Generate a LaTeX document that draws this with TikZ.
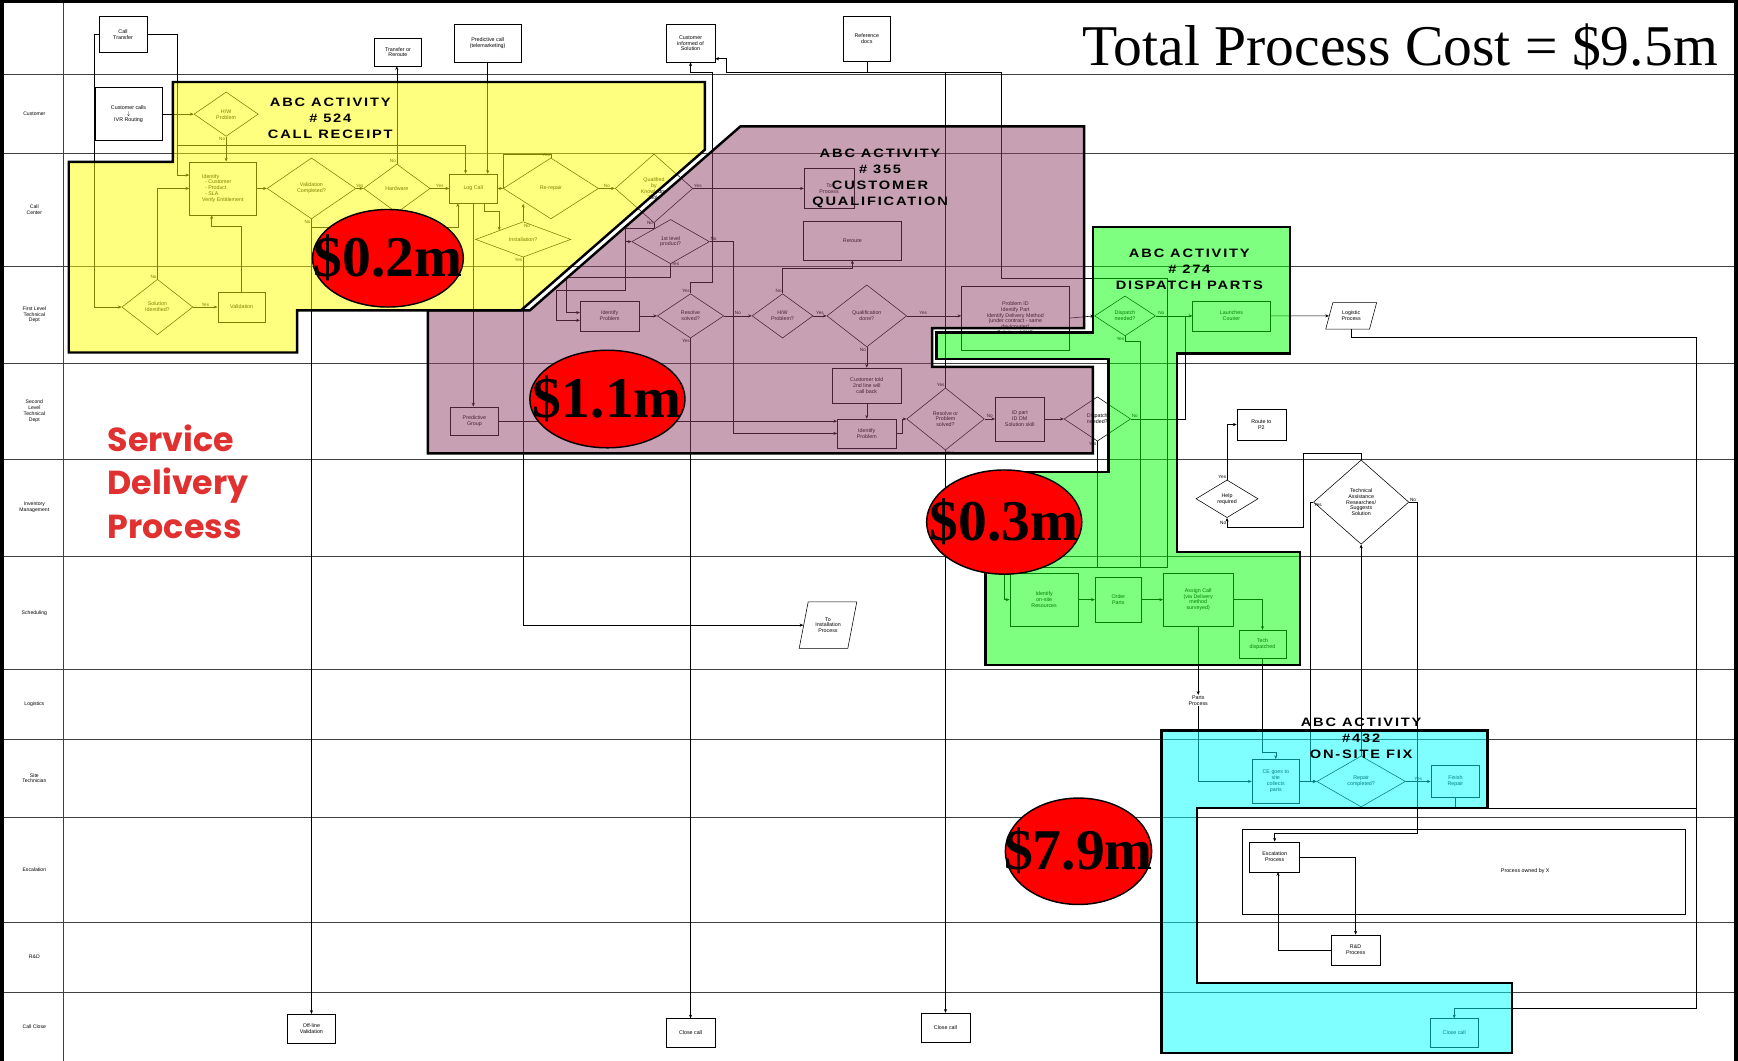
\documentclass[tikz,border=0pt]{standalone}
\usepackage{fontspec}
\setmainfont{Liberation Sans}
\newfontfamily\serifface{Liberation Serif}
\newfontfamily\abcface[LetterSpace=15,FakeStretch=1.2]{Liberation Sans Bold}
\newfontfamily\redface{Poppins}
\usetikzlibrary{shapes.geometric,arrows.meta}

\definecolor{abcyellow}{RGB}{255,255,0}
\definecolor{abcpurple}{RGB}{145,69,105}
\definecolor{abcgreen}{RGB}{0,255,0}
\definecolor{abccyan}{RGB}{0,255,255}
\definecolor{svcred}{RGB}{224,48,48}

\tikzset{
  lane/.style={line width=0.6pt, black!75},
  lanelabel/.style={font=\fontsize{4.6}{5.2}\selectfont, align=center, inner sep=0.5pt},
  box/.style={draw, fill=white, line width=0.5pt, align=center, inner sep=0.5pt, font=\fontsize{4.8}{5.3}\selectfont},
  dec/.style={diamond, draw, fill=white, line width=0.5pt, align=center, inner sep=0pt, font=\fontsize{4.8}{5.3}\selectfont},
  io/.style={trapezium, trapezium left angle=70, trapezium right angle=110, trapezium stretches=true, draw, fill=white, line width=0.5pt, align=center, inner sep=0.5pt, font=\fontsize{4.8}{5.3}\selectfont},
  flow/.style={line width=0.5pt, -{Stealth[length=3.4pt,width=2.8pt]}},
  link/.style={line width=0.5pt},
  yn/.style={font=\fontsize{4.2}{4.6}\selectfont, inner sep=0.6pt},
  rim/.style={draw=black, line width=2.2pt, line join=miter},
  abc/.style={font=\abcface\fontsize{11}{14.3}\selectfont, align=center, inner sep=0pt},
  cost/.style={ellipse, draw=black, line width=1.3pt, fill=red, inner sep=0pt},
  costtxt/.style={font=\serifface\bfseries\fontsize{52}{52}\selectfont, inner sep=0pt},
  sdp/.style={font=\redface\bfseries\fontsize{30}{30}\selectfont, text=svcred, anchor=base west, inner sep=0pt}
}

\begin{document}
\begin{tikzpicture}[x=1pt, y=-1pt]
  \useasboundingbox (0,0) rectangle (1568,957);
  \fill[white] (0,0) rectangle (1568,957);

  % Swim lanes
  \foreach \ly in {67,138,240,328,414,502,604,667,737,832,895}
    \draw[lane] (4,\ly) -- (1564,\ly);
  \draw[lane] (57,3) -- (57,957);
  \node[lanelabel] (lnCust) at (31,103) {Customer};
  \node[lanelabel] (lnCall) at (31,189) {Call\\Center};
  \node[lanelabel] (lnFirst) at (31,284) {First Level\\Technical\\Dept};
  \node[lanelabel] (lnSecond) at (31,371) {Second\\Level\\Technical\\Dept};
  \node[lanelabel] (lnInv) at (31,458) {Inventory\\Management};
  \node[lanelabel] (lnSched) at (31,553) {Scheduling};
  \node[lanelabel] (lnLog) at (31,635) {Logistics};
  \node[lanelabel] (lnSite) at (31,702) {Site\\Technician};
  \node[lanelabel] (lnEsc) at (31,785) {Escalation};
  \node[lanelabel] (lnRD) at (31,863) {R\&D};
  \node[lanelabel] (lnClose) at (31,926) {Call Close};

  % Header row
  \node[box, minimum width=43pt, minimum height=33pt] (calltr) at (111,31) {Call\\Transfer};
  \node[box, minimum width=43pt, minimum height=25pt] (xfer) at (359,47) {Transfer or\\Reroute};
  \node[box, minimum width=61pt, minimum height=34pt] (predict) at (440,39) {Predictive call\\(telemarketing)};
  \node[box, minimum width=44pt, minimum height=34pt] (custinf) at (623,39) {Customer\\informed of\\Solution};
  \node[box, minimum width=43pt, minimum height=41pt] (refdocs) at (782,35) {Reference\\docs};

  % Customer and call center
  \node[box, minimum width=60pt, minimum height=48pt] (ivr) at (116,103) {Customer calls\\$\downarrow$\\IVR Routing};
  \node[dec, minimum width=58pt, minimum height=40pt] (hwprob) at (204,103) {H/W\\Problem};
  \node[box, align=left, minimum width=60pt, minimum height=48pt] (ident) at (201,170) {Identify\\\ \ - Customer\\\ \ - Product\\\ \ - SLA\\Verify Entitlement};
  \node[dec, minimum width=80pt, minimum height=55pt] (valid) at (281,170) {Validation\\Completed?};
  \node[dec, minimum width=60pt, minimum height=44pt] (hw) at (358,170) {Hardware};
  \node[box, minimum width=43pt, minimum height=26pt] (logcall) at (427,170) {Log Call};
  \node[dec, minimum width=86pt, minimum height=55pt] (rerep) at (497,170) {Re-repair};
  \node[dec, minimum width=70pt, minimum height=62pt] (qualkt) at (590,170) {Qualified\\by\\Knowledge\\Tools};
  \node[dec, minimum width=86pt, minimum height=32pt] (install) at (472,216) {Installation?};
  \node[dec, minimum width=70pt, minimum height=40pt] (lvl1) at (605,218) {1st level\\product?};
  \node[box, minimum width=45pt, minimum height=36pt] (toproc) at (748,170) {To\\Process};
  \node[box, minimum width=89pt, minimum height=35pt] (rerout2) at (769,217) {Reroute};

  % First level
  \node[dec, minimum width=64pt, minimum height=50pt] (solid) at (142,277) {Solution\\Identified?};
  \node[box, minimum width=43pt, minimum height=27pt] (validn) at (218,277) {Validation};
  \node[box, minimum width=53pt, minimum height=27pt] (idp1) at (550,285) {Identify\\Problem};
  \node[dec, minimum width=60pt, minimum height=40pt] (ress) at (623,285) {Resolve\\solved?};
  \node[dec, minimum width=55pt, minimum height=40pt] (hwp2) at (706,285) {H/W\\Problem?};
  \node[dec, minimum width=72pt, minimum height=56pt] (qdone) at (782,285) {Qualification\\done?};
  \node[box, minimum width=97pt, minimum height=58pt] (probid) at (916,287) {Problem ID\\Identify Part\\Identify Delivery Method\\(under contract - same\\day/courier)\\Solution skill ID};
  \node[dec, minimum width=55pt, minimum height=36pt] (disp1) at (1015,285) {Dispatch\\needed?};
  \node[box, minimum width=70pt, minimum height=27pt] (launch) at (1111,285) {Launches\\Courier};
  \node[io, minimum width=46pt, minimum height=24pt] (logist) at (1219,285) {Logistic\\Process};

  % Second level
  \node[box, minimum width=43pt, minimum height=26pt] (predgrp) at (428,380) {Predictive\\Group};
  \node[box, minimum width=62pt, minimum height=32pt] (told) at (782,348) {Customer told\\2nd line will\\call back};
  \node[box, minimum width=53pt, minimum height=26pt] (idp2) at (782,391) {Identify\\Problem};
  \node[dec, minimum width=70pt, minimum height=56pt] (ress2) at (853,378) {Resolve or\\Problem\\solved?};
  \node[box, minimum width=44pt, minimum height=40pt] (idpart) at (920,378) {ID part\\ID DM\\Solution skill};
  \node[dec, minimum width=60pt, minimum height=40pt] (disp2) at (990,378) {Dispatch\\needed?};
  \node[box, minimum width=44pt, minimum height=28pt] (route2) at (1138,383) {Route to\\P2};

  % Inventory
  \node[dec, minimum width=56pt, minimum height=34pt] (help) at (1107,450) {Help\\required};
  \node[dec, minimum width=86pt, minimum height=76pt] (tech) at (1228,453) {Technical\\Assistance\\Researches/\\Suggests\\Solution};

  % Scheduling and logistics
  \node[io, minimum width=52pt, minimum height=42pt] (toinst) at (747,564) {To\\Installation\\Process};
  \node[box, minimum width=62pt, minimum height=48pt] (onsite) at (942,541) {Identify\\on-site\\Resources};
  \node[box, minimum width=42pt, minimum height=40pt] (order) at (1009,541) {Order\\Parts};
  \node[box, minimum width=63pt, minimum height=48pt] (assign) at (1081,541) {Assign Call\\(via Delivery\\method\\surveyed)};
  \node[box, minimum width=42pt, minimum height=25pt] (techd) at (1139,581) {Tech\\dispatched};
  \node[box, draw=none, fill=none] (parts) at (1081,632) {Parts\\Process};

  % Site technician, escalation, R&D
  \node[box, minimum width=43pt, minimum height=40pt] (cego) at (1151,705) {CE goes to\\site\\collects\\parts};
  \node[dec, minimum width=80pt, minimum height=46pt] (repair) at (1228,705) {Repair\\completed?};
  \node[box, minimum width=44pt, minimum height=29pt] (finish) at (1313,705) {Finish\\Repair};
  \node[draw, line width=1pt, minimum width=400pt, minimum height=77pt, inner sep=0pt] (owned) at (1321,786.5) {};
  \node[box, draw=none, fill=none] (ownedtx) at (1376,786) {Process owned by X};
  \node[box, minimum width=45pt, minimum height=27pt] (escal) at (1150,773) {Escalation\\Process};
  \node[box, minimum width=44pt, minimum height=27pt] (rnd) at (1223,857) {R\&D\\Process};

  % Call close
  \node[box, minimum width=43pt, minimum height=26pt] (offline) at (281,928) {Off-line\\Validation};
  \node[box, minimum width=44pt, minimum height=26pt] (close1) at (623,932) {Close call};
  \node[box, minimum width=44pt, minimum height=26pt] (close2) at (853,927) {Close call};
  \node[box, minimum width=44pt, minimum height=26pt] (close3) at (1312,932) {Close call};

  % Call receipt flow
  \coordinate (ctbr) at (160,131);
  \coordinate (vbr) at (281,205);
  \draw[flow] (calltr.west) -- ++(-4,0) |- (solid.west);
  \draw[flow] (calltr.east) -| (160,158) -- ([yshift=12pt]ident.west);
  \draw[flow] (ctbr) -| ([xshift=-7pt]logcall.north);
  \draw[flow] (ivr.east) -- (hwprob.west);
  \draw[flow] (hwprob.south) node[yn, below left]{No} -- (hwprob.south |- ident.north);
  \draw[flow] (ident.east) -- (valid.west);
  \draw[flow] (valid.east) -- node[yn, above]{Yes} (hw.west);
  \draw[flow] (valid.south) node[yn, below left]{No} -- (valid.south |- offline.north);
  \draw[flow] (vbr) -| ([xshift=-14pt]logcall.south);
  \draw[flow] (hw.east) -- node[yn, above]{Yes} (logcall.west);
  \draw[flow] (hw.north) node[yn, above left]{No} -- (hw.north |- xfer.south);
  \draw[flow] (predict.south) -- (predict.south |- logcall.north);
  \draw[flow] (logcall.east) -- (rerep.west);
  \draw[link] (rerep.north) node[yn, above left]{Yes} -- ++(0,-3) -| ([xshift=5pt]logcall.east);
  \draw[flow] (rerep.east) -- node[yn, above]{No} (qualkt.west);
  \draw[flow] (install.north) node[yn, right, yshift=-4pt]{No} -- (install.north |- rerep.south west);
  \draw[flow] ([xshift=10pt]logcall.south) |- ([yshift=17pt]install.north west) -- (install.north west);
  \draw[flow] (install.south) node[yn, below left]{Yes} |- (toinst.west);
  \draw[flow] (logcall.south) -- (logcall.south |- predgrp.north);
  \draw[flow] (solid.east) -- node[yn, above]{Yes} (validn.west);
  \draw[flow] (solid.north) node[yn, above left]{No} |- (ident.west);
  \draw[flow] (validn.north) |- ([xshift=-10pt,yshift=-10pt]ident.south) -- ([xshift=-10pt]ident.south);

  % Qualification flow
  \draw[flow] (qualkt.east) node[yn, above right]{Yes} -- (qualkt.east -| toproc.west);
  \draw[flow] (qualkt.south) node[yn, left]{No} -- ++(0,5) -| ([xshift=-6pt]lvl1.west) -- (lvl1.west);
  \draw[flow] (lvl1.east) node[yn, above right]{No} -| ([xshift=-94pt]idp2.west) -- (idp2.west);
  \draw[flow] (lvl1.south) node[yn, right]{Yes} |- (511,250) |- ([yshift=3pt]idp1.west);
  \draw[flow] ([xshift=-6pt]lvl1.west) |- (502,262) |- ([yshift=-4pt]idp1.west);
  \draw[flow] (idp1.east) -- (ress.west);
  \draw[flow] (ress.east) -- node[yn, above]{No} (hwp2.west);
  \draw[flow] (ress.north) node[yn, above left]{Yes} |- (643,255) -- (643,65) -| (custinf.south);
  \draw[flow] (ress.south) node[yn, below left]{Yes} -- (ress.south |- close1.north);
  \draw[flow] (hwp2.east) -- node[yn, above]{Yes} (qdone.west);
  \draw[flow] (hwp2.north) node[yn, above left]{No} |- ([yshift=-7pt]rerout2.south) -- (rerout2.south);
  \draw[flow] (qdone.east) -- node[yn, above, pos=0.3]{Yes} (qdone.east -| probid.west);
  \draw[flow] (qdone.south) node[yn, below left]{No} -- (told.north);
  \draw[flow] (told.south) -- (idp2.north);
  \draw[flow] (predgrp.east) -- (predgrp.east -| idp2.west);
  \draw[flow] (idp2.east) -- ++(5,0) |- (ress2.west);
  \draw[flow] (ress2.east) -- node[yn, above]{No} (idpart.west);
  \draw[flow] (ress2.south) node[yn, below right]{Yes} -- (ress2.south |- close2.north);
  \draw[flow] (ress2.north) node[yn, above left]{Yes} -- (853,65) -| (655,53) -- ([yshift=-14pt]custinf.east);
  \draw[link] (refdocs.south) -- (782,65);
  \draw[flow] (idpart.east) -- (disp2.west);

  % Dispatch flow
  \draw[flow] (853,65) -| (903,251) -| (1053,512) -| ([xshift=-5pt]onsite.west) -- (onsite.west);
  \draw[flow] (probid.east) -- (disp1.west);
  \draw[flow] (disp1.east) -- node[yn, above, pos=0.15]{No} (launch.west);
  \draw[link] (disp1.south) node[yn, below left]{Yes} -- ++(0,5) -| (1029,512);
  \draw[link] (disp2.east) node[yn, above right]{No} -| (1069,285);
  \draw[link] (disp2.south) node[yn, below left]{Yes} -- (990,512);
  \draw[flow] (launch.east) -- (logist.west);
  \draw[flow] (logist.south) |- (1530,304) |- ([yshift=9pt]close3.north) -- (close3.north);
  \draw[flow] (onsite.east) -- (order.west);
  \draw[flow] (order.east) -- (assign.west);
  \draw[flow] (assign.east) -| (techd.north);
  \draw[flow] (assign.south) -- (parts.north);

  % On-site fix flow
  \draw[flow] (parts.south) |- (cego.west);
  \draw[flow] (techd.south) |- ([yshift=6pt]cego.north) -- (cego.north);
  \draw[flow] (cego.east) -- (repair.west);
  \draw[flow] (repair.east) -- node[yn, above]{Yes} (finish.west);
  \draw[link] (finish.south) |- (1530,729);
  \draw[flow] (repair.north) -- (tech.south);
  \draw[flow] (tech.west) node[yn, below right]{Yes} -- ++(-3,0) |- (repair.west);
  \draw[flow] (tech.east) node[yn, above right]{No} -| (1279,752) -| (escal.north);
  \draw[flow] (tech.north) |- (1176,409) |- ([yshift=-8pt]help.south) -- (help.south);
  \node[yn, anchor=north east] (helpno) at ([yshift=-2pt]help.south) {No};
  \draw[flow] (help.north) node[yn, above left]{Yes} |- (route2.west);
  \draw[flow] (escal.east) -| (rnd.north);
  \draw[flow] (rnd.west) -| ([xshift=3pt]escal.south);

  % ABC activity regions
  \draw[rim, fill=abcyellow, fill opacity=0.5] (156,74) -- (636,74) -- (636,135) -- (470,280) -- (268,280) -- (268,318) -- (62,318) -- (62,146) -- (156,146) -- cycle;
  \draw[rim, fill=abcpurple, fill opacity=0.5] (668,114) -- (978,114) -- (978,296) -- (841,296) -- (841,331) -- (986,331) -- (986,409) -- (386,409) -- (386,280) -- (478,280) -- cycle;
  \draw[rim, fill=abcgreen, fill opacity=0.5] (986,205) -- (1164,205) -- (1164,319) -- (1062,319) -- (1062,498) -- (1173,498) -- (1173,600) -- (889,600) -- (889,426) -- (1000,426) -- (1000,324) -- (845,324) -- (845,300) -- (986,300) -- cycle;
  \draw[rim, fill=abccyan, fill opacity=0.5] (1048,659) -- (1342,659) -- (1342,729) -- (1080,729) -- (1080,887) -- (1364,887) -- (1364,950) -- (1048,950) -- cycle;
  \node[abc] (t524) at (298,107) {ABC ACTIVITY\\\# 524\\CALL RECEIPT};
  \node[abc] (t355) at (794,161) {ABC ACTIVITY\\\# 355\\CUSTOMER\\QUALIFICATION};
  \node[abc] (t274) at (1073,243) {ABC ACTIVITY\\\# 274\\DISPATCH PARTS};
  \node[abc] (t432) at (1228,666) {ABC ACTIVITY\\\#432\\ON-SITE FIX};

  % Cost bubbles
  \node[cost, minimum width=136pt, minimum height=88pt] (c02) at (350,233) {};
  \node[costtxt] (c02t) at (c02.center) {\$0.2m};
  \node[cost, minimum width=140pt, minimum height=88pt] (c11) at (548,360) {};
  \node[costtxt] (c11t) at (c11.center) {\$1.1m};
  \node[cost, minimum width=140pt, minimum height=94pt] (c03) at (906,471) {};
  \node[costtxt] (c03t) at (c03.center) {\$0.3m};
  \node[cost, minimum width=132pt, minimum height=96pt] (c79) at (973,768) {};
  \node[costtxt] (c79t) at (c79.center) {\$7.9m};

  % Headings
  \node[font=\serifface\fontsize{52}{52}\selectfont, anchor=base east, inner sep=0pt] (title) at (1550,59) {Total Process Cost = \$9.5m};
  \node[sdp] (sdp1) at (97,407) {Service};
  \node[sdp] (sdp2) at (97,446) {Delivery};
  \node[sdp] (sdp3) at (97,486) {Process};

  % Frame
  \fill[black] (0,0) rectangle (4,957);
  \fill[black] (0,0) rectangle (1568,3);
  \fill[black] (1564,0) rectangle (1568,957);
\end{tikzpicture}
\end{document}
